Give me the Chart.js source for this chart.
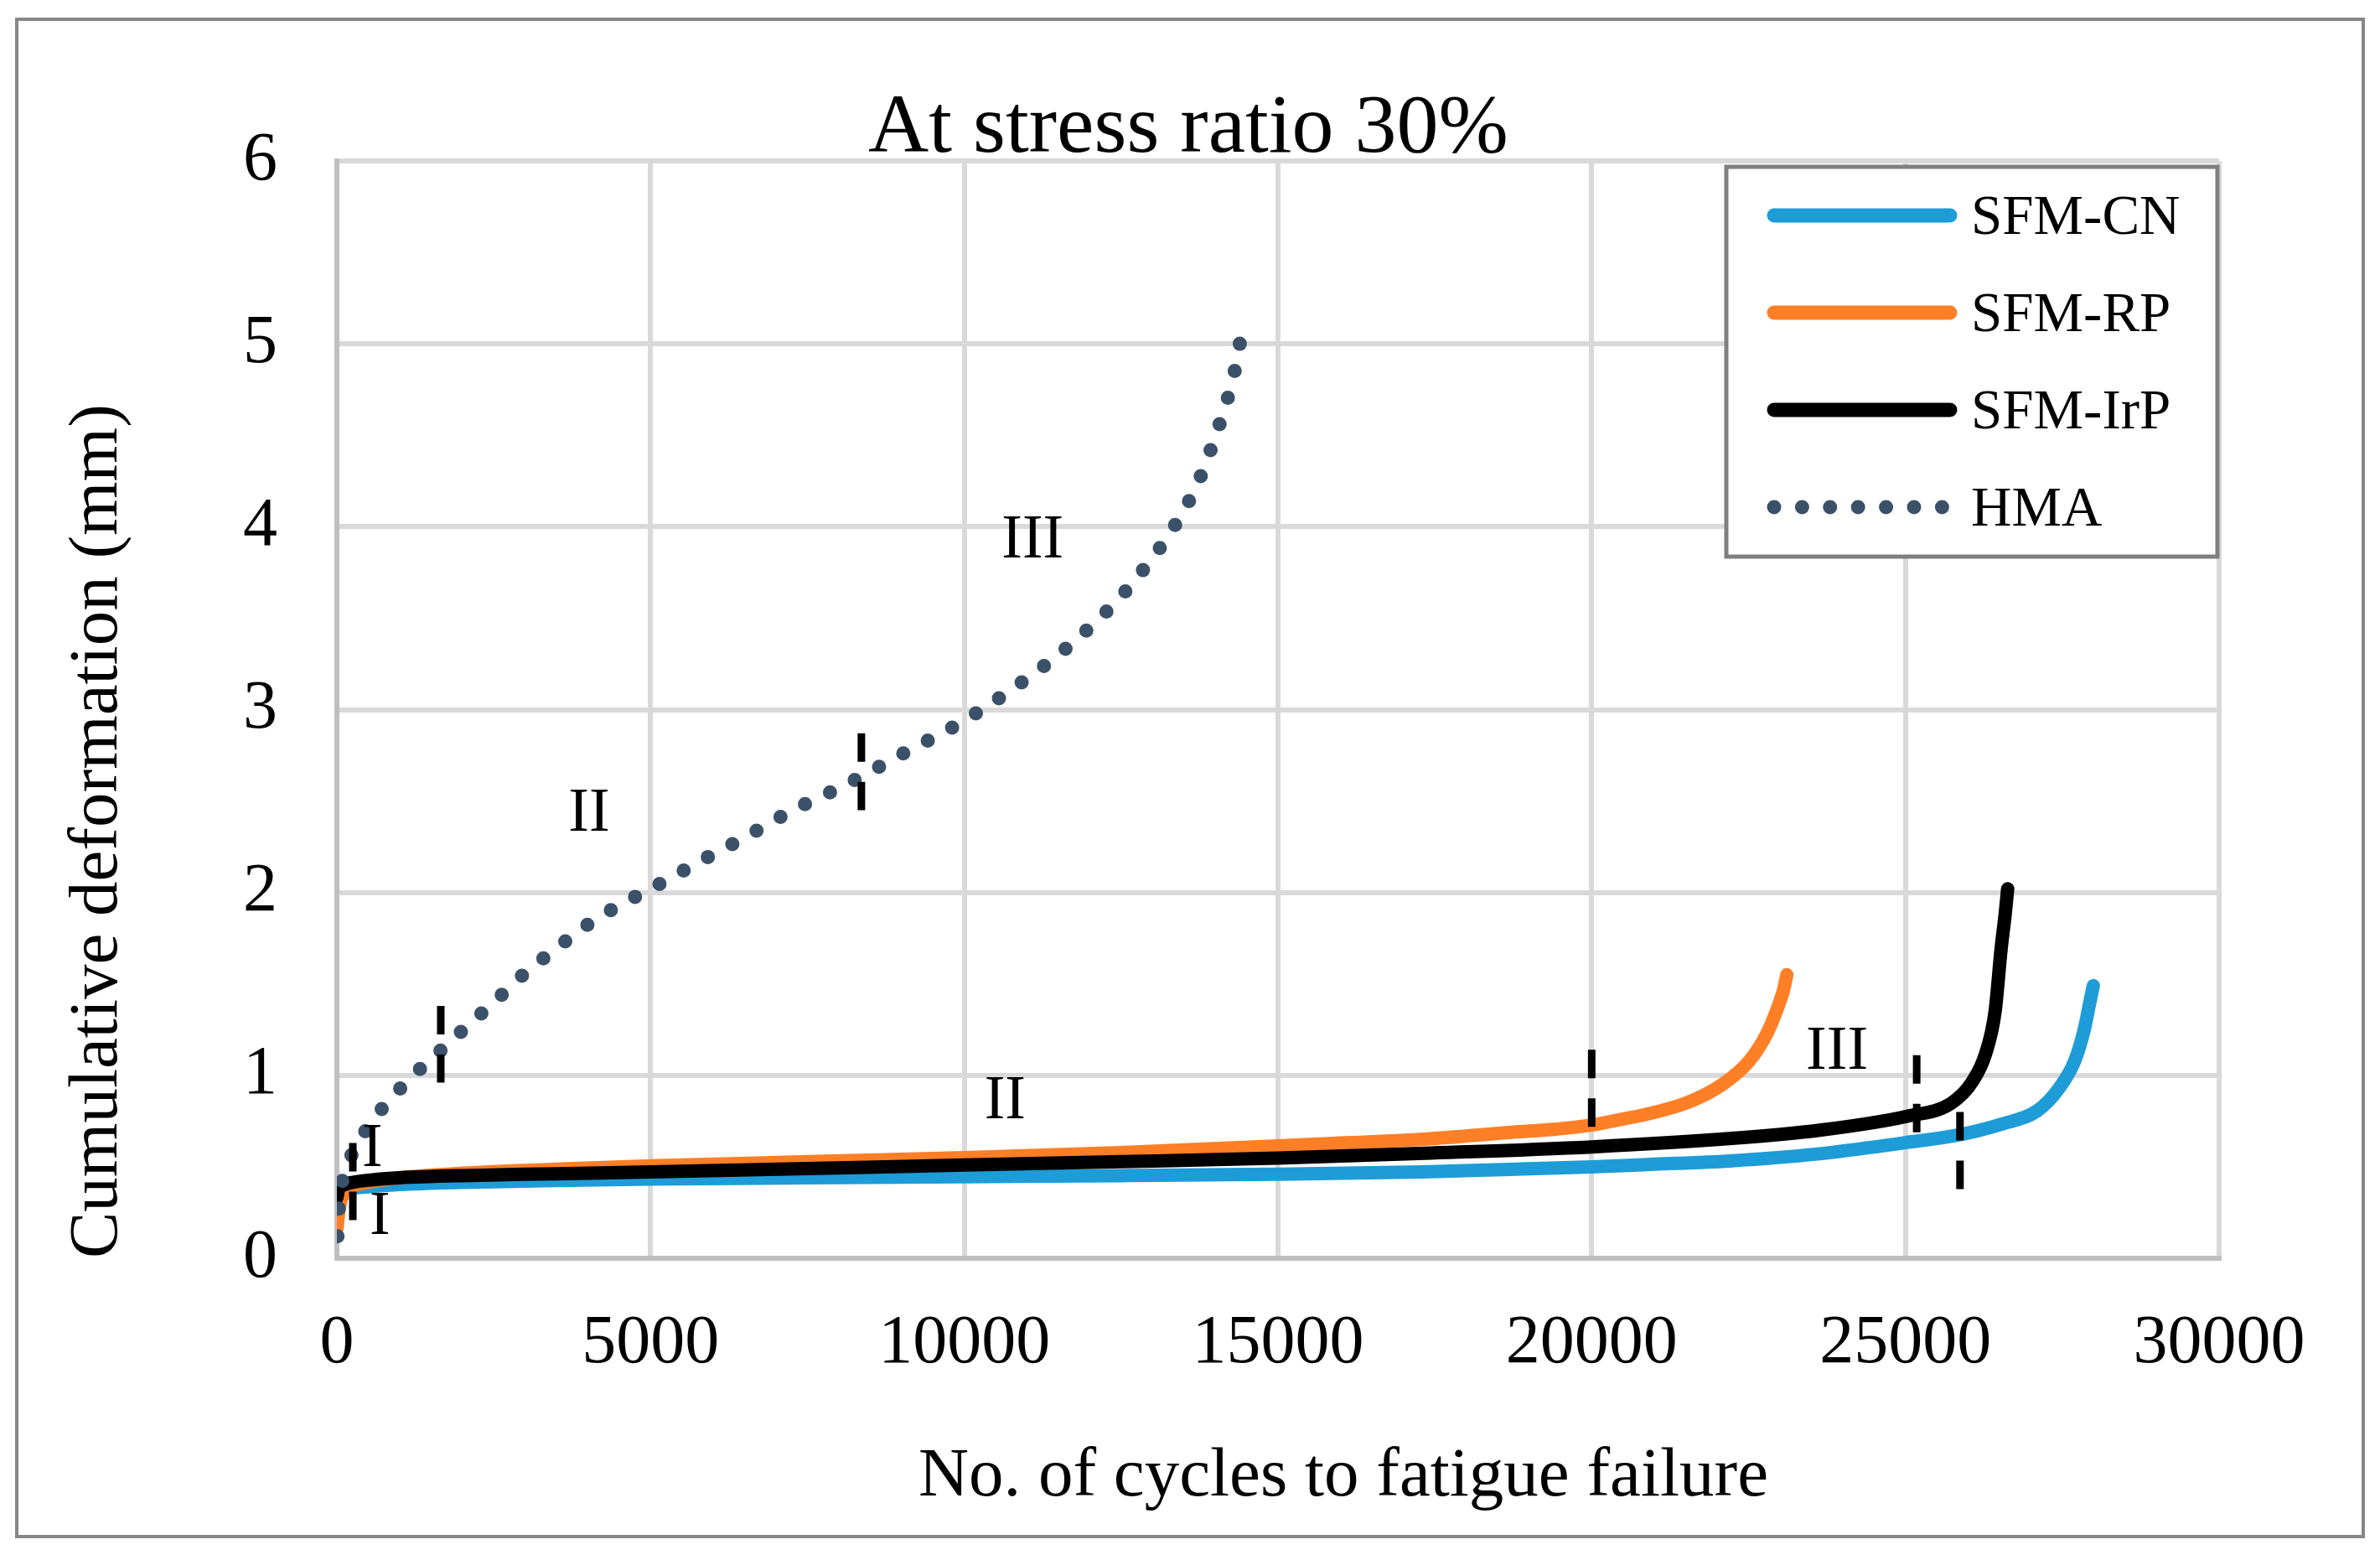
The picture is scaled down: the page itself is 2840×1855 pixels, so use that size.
<!DOCTYPE html>
<html>
<head>
<meta charset="utf-8">
<title>At stress ratio 30%</title>
<script src="https://cdn.jsdelivr.net/npm/chart.js@4.4.1/dist/chart.umd.min.js"></script>
<style>
  html, body { margin: 0; padding: 0; background: #fff; overflow: hidden; }
  canvas { display: block; }
</style>
</head>
<body>
<canvas id="fatigueChart" width="2840" height="1855"></canvas>
<script>
const chartTitle = "At stress ratio 30%";
const xAxisTitle = "No. of cycles to fatigue failure";
const yAxisTitle = "Cumulative deformation (mm)";

const xTickLabels = ["0", "5000", "10000", "15000", "20000", "25000", "30000"];
const yTickLabels = ["0", "1", "2", "3", "4", "5", "6"];

// SFM-CN
const cnCycles = [0, 60, 200, 500, 1000, 2000, 3500, 5000, 7500, 10000, 12500, 15000, 17300, 18700, 20000, 21000, 22200, 23600, 25000, 25850, 26550, 27100, 27450, 27700, 27850, 27940, 27995];
const cnDef = [0.28, 0.34, 0.375, 0.39, 0.403, 0.415, 0.425, 0.433, 0.44, 0.446, 0.452, 0.46, 0.472, 0.486, 0.50, 0.514, 0.532, 0.57, 0.632, 0.674, 0.735, 0.806, 0.93, 1.08, 1.25, 1.40, 1.49];

// SFM-RP
const rpCycles = [0, 40, 100, 200, 500, 1000, 2000, 3500, 5000, 7500, 10000, 12500, 14700, 16000, 17340, 18740, 19430, 20000, 20490, 20830, 21530, 22090, 22500, 22790, 22960, 23060, 23110];
const rpDef = [0.16, 0.28, 0.35, 0.385, 0.415, 0.44, 0.465, 0.487, 0.505, 0.528, 0.55, 0.578, 0.61, 0.63, 0.651, 0.689, 0.706, 0.728, 0.761, 0.784, 0.852, 0.952, 1.074, 1.227, 1.366, 1.47, 1.55];

// SFM-IrP
const irpCycles = [0, 30, 100, 250, 600, 1000, 2000, 3500, 5000, 7500, 10000, 12500, 15000, 17340, 20000, 22230, 23630, 25020, 25720, 26070, 26280, 26430, 26525, 26590, 26630];
const irpDef = [0.33, 0.38, 0.40, 0.415, 0.43, 0.44, 0.452, 0.462, 0.472, 0.49, 0.51, 0.528, 0.548, 0.574, 0.609, 0.655, 0.70, 0.776, 0.845, 0.967, 1.12, 1.35, 1.69, 1.88, 2.02];

// HMA
const hmaCycles = [10, 30, 80, 150, 250, 400, 550, 750, 1000, 1250, 1500, 1750, 2000, 2500, 3000, 3500, 4000, 4500, 5000, 5500, 6000, 6500, 7000, 7500, 8000, 8500, 9000, 9500, 10000, 10500, 11000, 11500, 12000, 12500, 13000, 13250, 13500, 13700, 13850, 14000, 14150, 14270, 14360, 14440];
const hmaDef = [0.12, 0.26, 0.41, 0.50, 0.575, 0.665, 0.745, 0.83, 0.925, 1.01, 1.09, 1.165, 1.245, 1.40, 1.56, 1.695, 1.825, 1.93, 2.02, 2.115, 2.21, 2.30, 2.40, 2.49, 2.57, 2.66, 2.755, 2.845, 2.94, 3.05, 3.17, 3.30, 3.45, 3.62, 3.83, 3.95, 4.09, 4.22, 4.35, 4.49, 4.65, 4.79, 4.94, 5.10];

// stage boundary markers (short dashed verticals)
const markerCycles = [254, 1656, 8360, 20000, 25180, 25870];
const markerTop = [0.63, 1.38, 2.87, 1.14, 1.11, 0.80];
const markerBottom = [0.20, 0.96, 2.45, 0.715, 0.684, 0.376];

// stage labels
const stageText = ["I", "I", "II", "III", "II", "III"];
const stageCycles = [565, 686, 4020, 11090, 10650, 23910];
const stageDef = [0.593, 0.221, 2.425, 3.92, 0.853, 1.125];

const toPoints = (xs, ys) => xs.map((x, i) => ({ x: x, y: ys[i] }));

Chart.defaults.font.family = '"Liberation Serif", "Times New Roman", serif';
Chart.defaults.color = '#000';

const markerSets = markerCycles.map((x, i) => ({
    label: 'marker' + i,
    data: [{ x: x, y: markerTop[i] }, { x: x, y: markerBottom[i] }],
    borderColor: '#000',
    borderWidth: 9,
    borderDash: [34, 24],
    pointRadius: 0,
    order: 0
}));

const extras = {
    id: 'extras',
    beforeDraw(chart) {
        const c = chart.ctx;
        c.save();
        c.fillStyle = '#fff';
        c.fillRect(0, 0, chart.width, chart.height);
        c.restore();
    },
    afterDraw(chart) {
        const c = chart.ctx;
        const xs = chart.scales.x;
        const ys = chart.scales.y;
        c.save();

        // outer frame
        c.strokeStyle = '#868686';
        c.lineWidth = 4;
        c.strokeRect(20, 23, 2800, 1810);

        // titles
        c.fillStyle = '#000';
        c.textAlign = 'center';
        c.textBaseline = 'alphabetic';
        c.font = '100px "Liberation Serif"';
        c.fillText(chartTitle, 1418, 181);
        c.font = '83px "Liberation Serif"';
        c.fillText(xAxisTitle, 1603, 1784);

        // stage labels
        c.font = '74px "Liberation Serif"';
        c.textBaseline = 'middle';
        stageText.forEach((t, i) => {
            c.fillText(t, xs.getPixelForValue(stageCycles[i]), ys.getPixelForValue(stageDef[i]));
        });

        // legend
        c.fillStyle = '#fff';
        c.fillRect(2060, 199, 586, 465);
        c.strokeStyle = '#7F7F7F';
        c.lineWidth = 5;
        c.strokeRect(2060, 199, 586, 465);
        chart.data.datasets.slice(0, 4).forEach((ds, i) => {
            const y = 257 + i * 116;
            const dotted = ds.borderDash && ds.borderDash.length > 0;
            c.beginPath();
            c.strokeStyle = ds.borderColor;
            c.lineWidth = 17;
            c.lineCap = 'round';
            c.setLineDash(dotted ? [0, 33.4] : []);
            c.moveTo(2117, y);
            c.lineTo(dotted ? 2318 : 2327, y);
            c.stroke();
            c.setLineDash([]);
            c.fillStyle = '#000';
            c.textAlign = 'left';
            c.textBaseline = 'alphabetic';
            c.font = '67px "Liberation Serif"';
            c.fillText(ds.label, 2352, y + 22);
        });
        c.restore();
    }
};

const ctx = document.getElementById("fatigueChart").getContext("2d");

new Chart(ctx, {
    type: 'line',
    data: {
        datasets: [
            {
                label: 'SFM-CN',
                data: toPoints(cnCycles, cnDef),
                borderColor: '#1E9CD7',
                borderWidth: 16,
                borderCapStyle: 'round',
                borderJoinStyle: 'round',
                cubicInterpolationMode: 'monotone',
                pointRadius: 0,
                order: 4
            },
            {
                label: 'SFM-RP',
                data: toPoints(rpCycles, rpDef),
                borderColor: '#FF7F27',
                borderWidth: 16,
                borderCapStyle: 'round',
                borderJoinStyle: 'round',
                cubicInterpolationMode: 'monotone',
                pointRadius: 0,
                order: 3
            },
            {
                label: 'SFM-IrP',
                data: toPoints(irpCycles, irpDef),
                borderColor: '#000000',
                borderWidth: 16,
                borderCapStyle: 'round',
                borderJoinStyle: 'round',
                cubicInterpolationMode: 'monotone',
                pointRadius: 0,
                order: 2
            },
            {
                label: 'HMA',
                data: toPoints(hmaCycles, hmaDef),
                borderColor: '#3B5169',
                borderWidth: 17,
                borderDash: [0, 33],
                borderCapStyle: 'round',
                cubicInterpolationMode: 'monotone',
                pointRadius: 0,
                order: 1
            },
            ...markerSets
        ]
    },
    options: {
        responsive: false,
        animation: false,
        devicePixelRatio: 1,
        layout: {
            padding: { top: 192, right: 192, left: 0, bottom: 0 }
        },
        plugins: {
            legend: { display: false },
            tooltip: { enabled: false },
            title: { display: false }
        },
        scales: {
            x: {
                type: 'linear',
                min: 0,
                max: 30000,
                ticks: {
                    stepSize: 5000,
                    padding: 53,
                    font: { size: 82 },
                    callback: (v, i) => xTickLabels[i]
                },
                grid: { color: '#D9D9D9', lineWidth: 6, drawTicks: false },
                border: { color: '#BFBFBF', width: 6 },
                afterFit: (scale) => { scale.height = 354; }
            },
            y: {
                min: 0,
                max: 6,
                ticks: {
                    stepSize: 1,
                    padding: 71,
                    font: { size: 82 },
                    callback: (v, i) => yTickLabels[i]
                },
                grid: { color: '#D9D9D9', lineWidth: 6, drawTicks: false },
                border: { color: '#BFBFBF', width: 6 },
                title: {
                    display: true,
                    text: yAxisTitle,
                    align: 'start',
                    font: { size: 83 },
                    padding: { top: 67, bottom: 0 }
                },
                afterFit: (scale) => { scale.width = 402; }
            }
        }
    },
    plugins: [extras]
});
</script>
</body>
</html>
